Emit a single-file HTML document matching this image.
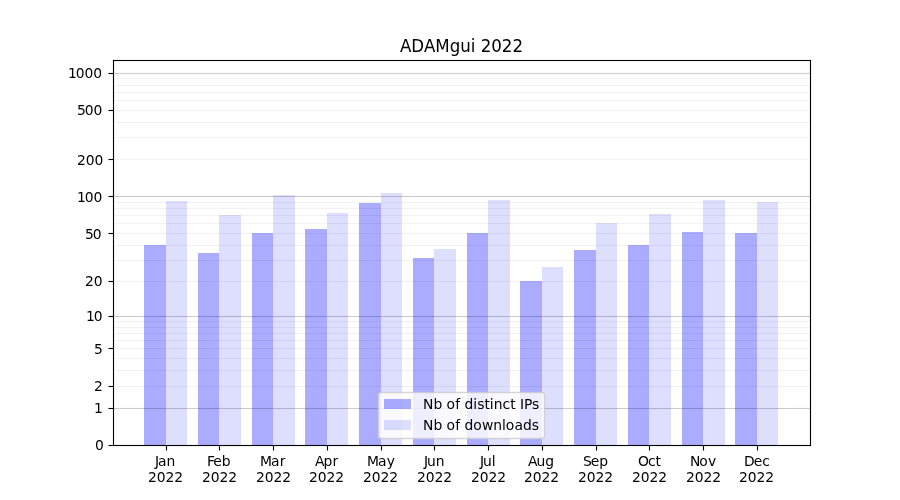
<!DOCTYPE html>
<html lang="en"><head><meta charset="utf-8"><title>ADAMgui 2022</title>
<style>
html,body{margin:0;padding:0;background:#fff;}
body{width:900px;height:500px;overflow:hidden;}
svg{display:block;}
text{font-family:"DejaVu Sans","Liberation Sans",sans-serif;fill:#000;}
.t{font-size:13.889px;}
.ti{font-size:16.667px;}
</style></head><body>
<svg width="900" height="500" viewBox="0 0 900 500">
<rect x="0" y="0" width="900" height="500" fill="#ffffff"/>

<g shape-rendering="crispEdges">
<rect x="144" y="245" width="22" height="200" fill="#ababff"/>
<rect x="198" y="253" width="21" height="192" fill="#ababff"/>
<rect x="252" y="233" width="21" height="212" fill="#ababff"/>
<rect x="305" y="229" width="22" height="216" fill="#ababff"/>
<rect x="359" y="203" width="22" height="242" fill="#ababff"/>
<rect x="413" y="258" width="21" height="187" fill="#ababff"/>
<rect x="467" y="233" width="21" height="212" fill="#ababff"/>
<rect x="520" y="281" width="22" height="164" fill="#ababff"/>
<rect x="574" y="250" width="22" height="195" fill="#ababff"/>
<rect x="628" y="245" width="21" height="200" fill="#ababff"/>
<rect x="682" y="232" width="21" height="213" fill="#ababff"/>
<rect x="735" y="233" width="22" height="212" fill="#ababff"/>
<rect x="166" y="201" width="21" height="244" fill="#dedeff"/>
<rect x="219" y="215" width="22" height="230" fill="#dedeff"/>
<rect x="273" y="195" width="22" height="250" fill="#dedeff"/>
<rect x="327" y="213" width="21" height="232" fill="#dedeff"/>
<rect x="381" y="193" width="21" height="252" fill="#dedeff"/>
<rect x="434" y="249" width="22" height="196" fill="#dedeff"/>
<rect x="488" y="200" width="22" height="245" fill="#dedeff"/>
<rect x="542" y="267" width="21" height="178" fill="#dedeff"/>
<rect x="596" y="223" width="21" height="222" fill="#dedeff"/>
<rect x="649" y="214" width="22" height="231" fill="#dedeff"/>
<rect x="703" y="200" width="22" height="245" fill="#dedeff"/>
<rect x="757" y="202" width="21" height="243" fill="#dedeff"/>
</g>
<g fill="#000">
<rect x="113" y="407.945" width="697.5" height="1.111" fill-opacity="0.2"/>
<rect x="113" y="315.945" width="697.5" height="1.111" fill-opacity="0.2"/>
<rect x="113" y="195.945" width="697.5" height="1.111" fill-opacity="0.2"/>
<rect x="113" y="72.945" width="697.5" height="1.111" fill-opacity="0.2"/>
<rect x="113" y="385.945" width="697.5" height="1.111" fill-opacity="0.05"/>
<rect x="113" y="369.945" width="697.5" height="1.111" fill-opacity="0.05"/>
<rect x="113" y="357.945" width="697.5" height="1.111" fill-opacity="0.05"/>
<rect x="113" y="347.945" width="697.5" height="1.111" fill-opacity="0.05"/>
<rect x="113" y="339.945" width="697.5" height="1.111" fill-opacity="0.05"/>
<rect x="113" y="332.945" width="697.5" height="1.111" fill-opacity="0.05"/>
<rect x="113" y="326.945" width="697.5" height="1.111" fill-opacity="0.05"/>
<rect x="113" y="320.945" width="697.5" height="1.111" fill-opacity="0.05"/>
<rect x="113" y="280.945" width="697.5" height="1.111" fill-opacity="0.05"/>
<rect x="113" y="259.945" width="697.5" height="1.111" fill-opacity="0.05"/>
<rect x="113" y="244.945" width="697.5" height="1.111" fill-opacity="0.05"/>
<rect x="113" y="232.945" width="697.5" height="1.111" fill-opacity="0.05"/>
<rect x="113" y="222.945" width="697.5" height="1.111" fill-opacity="0.05"/>
<rect x="113" y="214.945" width="697.5" height="1.111" fill-opacity="0.05"/>
<rect x="113" y="207.945" width="697.5" height="1.111" fill-opacity="0.05"/>
<rect x="113" y="201.945" width="697.5" height="1.111" fill-opacity="0.05"/>
<rect x="113" y="158.945" width="697.5" height="1.111" fill-opacity="0.05"/>
<rect x="113" y="136.945" width="697.5" height="1.111" fill-opacity="0.05"/>
<rect x="113" y="121.945" width="697.5" height="1.111" fill-opacity="0.05"/>
<rect x="113" y="109.945" width="697.5" height="1.111" fill-opacity="0.05"/>
<rect x="113" y="99.945" width="697.5" height="1.111" fill-opacity="0.05"/>
<rect x="113" y="91.945" width="697.5" height="1.111" fill-opacity="0.05"/>
<rect x="113" y="84.945" width="697.5" height="1.111" fill-opacity="0.05"/>
<rect x="113" y="77.945" width="697.5" height="1.111" fill-opacity="0.05"/>
</g>
<g fill="#000">
<rect x="112.9445" y="59.9445" width="1.111" height="386.111"/>
<rect x="809.9445" y="59.9445" width="1.111" height="386.111"/>
<rect x="112.9445" y="59.9445" width="698.111" height="1.111"/>
<rect x="112.9445" y="444.9445" width="698.111" height="1.111"/>
<rect x="108.5" y="444.9445" width="5" height="1.111"/>
<rect x="108.5" y="407.9445" width="5" height="1.111"/>
<rect x="108.5" y="385.9445" width="5" height="1.111"/>
<rect x="108.5" y="347.9445" width="5" height="1.111"/>
<rect x="108.5" y="315.9445" width="5" height="1.111"/>
<rect x="108.5" y="280.9445" width="5" height="1.111"/>
<rect x="108.5" y="232.9445" width="5" height="1.111"/>
<rect x="108.5" y="195.9445" width="5" height="1.111"/>
<rect x="108.5" y="158.9445" width="5" height="1.111"/>
<rect x="108.5" y="109.9445" width="5" height="1.111"/>
<rect x="108.5" y="72.9445" width="5" height="1.111"/>
<rect x="165.9445" y="445" width="1.111" height="5.5"/>
<rect x="218.9445" y="445" width="1.111" height="5.5"/>
<rect x="272.9445" y="445" width="1.111" height="5.5"/>
<rect x="326.9445" y="445" width="1.111" height="5.5"/>
<rect x="380.9445" y="445" width="1.111" height="5.5"/>
<rect x="433.9445" y="445" width="1.111" height="5.5"/>
<rect x="487.9445" y="445" width="1.111" height="5.5"/>
<rect x="541.9445" y="445" width="1.111" height="5.5"/>
<rect x="595.9445" y="445" width="1.111" height="5.5"/>
<rect x="648.9445" y="445" width="1.111" height="5.5"/>
<rect x="702.9445" y="445" width="1.111" height="5.5"/>
<rect x="756.9445" y="445" width="1.111" height="5.5"/>
</g>
<g class="t">
<text x="95" y="450">0</text>
<text x="94" y="413">1</text>
<text x="94" y="391">2</text>
<text x="94" y="354">5</text>
<text x="86 93.75" y="321">10</text>
<text x="85 93.75" y="286">20</text>
<text x="85 92.75" y="239">50</text>
<text x="77 84.75 93.5" y="202">100</text>
<text x="77 85.75 94.5" y="165">200</text>
<text x="77 84.75 93.5" y="115">500</text>
<text x="68 75.75 84.5 93.25" y="78">1000</text>
<text x="155 158 166.5" y="466.00">Jan</text>
<text x="148 156.75 165.5 174.25" y="482.00">2022</text>
<text x="207 213.25 221.75" y="466.00">Feb</text>
<text x="202 210.75 219.5 228.25" y="482.00">2022</text>
<text x="260 271 279.75" y="466.00">Mar</text>
<text x="256 264.75 273.5 282.25" y="482.00">2022</text>
<text x="315 323.5 332.5" y="466.00">Apr</text>
<text x="309 317.75 326.5 335.25" y="482.00">2022</text>
<text x="367 378 386.75" y="466.00">May</text>
<text x="363 371.75 380.5 389.25" y="482.00">2022</text>
<text x="424 427 435.75" y="466.00">Jun</text>
<text x="417 425.75 434.5 443.25" y="482.00">2022</text>
<text x="480 483 491.75" y="466.00">Jul</text>
<text x="471 479.75 488.5 497.25" y="482.00">2022</text>
<text x="528 536.5 545.25" y="466.00">Aug</text>
<text x="524 532.75 541.5 550.25" y="482.00">2022</text>
<text x="583 590.75 599.25" y="466.00">Sep</text>
<text x="578 586.75 595.5 604.25" y="482.00">2022</text>
<text x="638 648 655.5" y="466.00">Oct</text>
<text x="632 640.75 649.5 658.25" y="482.00">2022</text>
<text x="690 699.25 708" y="466.00">Nov</text>
<text x="686 694.75 703.5 712.25" y="482.00">2022</text>
<text x="744 753.75 762.25" y="466.00">Dec</text>
<text x="739 747.75 756.5 765.25" y="482.00">2022</text>
</g>
<text style="font-size:17.4px" transform="scale(0.95787,1)" x="417.593 429.338 442.649 454.394 469.531 480.493 491.455 496.153 501.895 512.857 523.818 535.041" y="52">ADAMgui 2022</text>
<rect x="378.5" y="392.5" width="166" height="46" rx="2.78" ry="2.78" fill="#fff" fill-opacity="0.8" stroke="#cccccc" stroke-opacity="0.8" stroke-width="1.389"/>
<rect x="384" y="399" width="27" height="10" fill="#0000ff" fill-opacity="0.33"/>
<rect x="384" y="420" width="27" height="10" fill="#0000ff" fill-opacity="0.13"/>
<g class="t"><text x="423 433.5 442 446.5 455.25 460 464.5 473.25 477.25 484.5 489.75 493.75 502.5 510.25 515 520 524 532" y="408.60">Nb of distinct IPs</text><text x="423 433.5 442 446.5 455.25 460 464.5 473.25 482 493.25 502 505.75 514.5 523 531.75" y="429.50">Nb of downloads</text></g>
</svg></body></html>
